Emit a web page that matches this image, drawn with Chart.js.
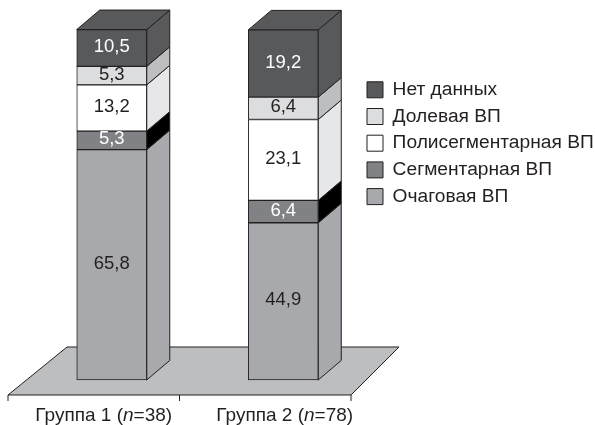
<!DOCTYPE html>
<html lang="ru">
<head>
    <meta charset="UTF-8">
    <title>Группы ВП</title>
    <script src="https://cdn.jsdelivr.net/npm/chart.js"></script>
    <style>
        body { margin: 0; background: #fff; }
        canvas { display: block; }
    </style>
</head>
<body>
    <canvas id="chart" width="595" height="425"></canvas>

    <script>
        const categories = ['Группа 1', 'Группа 2'];
        const groupSizes = [38, 78];

        const focal = [65.8, 44.9];
        const segmental = [5.3, 6.4];
        const polysegmental = [13.2, 23.1];
        const lobar = [5.3, 6.4];
        const noData = [10.5, 19.2];

        const FONT = '"Liberation Sans", Arial, sans-serif';
        const INK = '#231f20';
        const DEPTH_X = 23;
        const DEPTH_Y = 19.5;

        function polygon(ctx, points, fill) {
            ctx.beginPath();
            points.forEach(([x, y], i) => i ? ctx.lineTo(x, y) : ctx.moveTo(x, y));
            ctx.closePath();
            ctx.fillStyle = fill;
            ctx.fill();
            ctx.strokeStyle = INK;
            ctx.lineWidth = 1;
            ctx.stroke();
        }

        const bars3d = {
            id: 'bars3d',
            afterLayout(chart) {
                // legend sits to the right of the bars, above the middle
                const legend = chart.legend;
                const h = legend.height;
                legend.left = 359.5;
                legend.right = legend.left + legend.width;
                legend.top = 72.7;
                legend.bottom = legend.top + h;
            },
            beforeDatasetsDraw(chart) {
                const { ctx, scales: { x, y } } = chart;
                const shift = 18;
                const left = x.left - shift;
                const right = x.right - shift;
                const front = y.bottom;
                ctx.save();
                // floor
                polygon(ctx, [[left, front], [left + 59, front - 48], [right + 48, front - 48], [right, front]], '#bcbec0');
                // ticks under the floor
                [left, (left + right) / 2, right].forEach(px => {
                    ctx.beginPath();
                    ctx.moveTo(px, front);
                    ctx.lineTo(px, front + 6);
                    ctx.strokeStyle = INK;
                    ctx.stroke();
                });
                // side faces and lid
                chart.data.datasets.forEach((ds, i) => {
                    chart.getDatasetMeta(i).data.forEach(bar => {
                        const r = bar.x + bar.width / 2;
                        const top = Math.min(bar.y, bar.base);
                        const bottom = Math.max(bar.y, bar.base);
                        polygon(ctx, [[r, top], [r + DEPTH_X, top - DEPTH_Y], [r + DEPTH_X, bottom - DEPTH_Y], [r, bottom]], ds.sideColor);
                        if (i === chart.data.datasets.length - 1) {
                            const l = bar.x - bar.width / 2;
                            polygon(ctx, [[l, top], [l + DEPTH_X, top - DEPTH_Y], [r + DEPTH_X, top - DEPTH_Y], [r, top]], ds.sideColor);
                        }
                    });
                });
                ctx.restore();
            },
            afterDatasetsDraw(chart) {
                const { ctx } = chart;
                ctx.save();
                ctx.textAlign = 'center';
                ctx.textBaseline = 'middle';
                ctx.font = '18.5px ' + FONT;
                // values on the bars, with a decimal comma
                chart.data.datasets.forEach((ds, i) => {
                    chart.getDatasetMeta(i).data.forEach((bar, j) => {
                        ctx.fillStyle = ds.labelColor;
                        ctx.fillText(String(ds.data[j]).replace('.', ','), bar.x, (bar.y + bar.base) / 2 - 1);
                    });
                });
                // group labels with an italic n
                const centers = [-8, 1.5];
                const first = chart.getDatasetMeta(0).data;
                ctx.textAlign = 'left';
                ctx.fillStyle = INK;
                categories.forEach((name, j) => {
                    const parts = [
                        [name + ' (', '19px ' + FONT],
                        ['n', 'italic 19px ' + FONT],
                        ['=' + groupSizes[j] + ')', '19px ' + FONT]
                    ];
                    let width = 0;
                    parts.forEach(([text, font]) => {
                        ctx.font = font;
                        width += ctx.measureText(text).width;
                    });
                    let px = first[j].x + centers[j] - width / 2;
                    parts.forEach(([text, font]) => {
                        ctx.font = font;
                        ctx.fillText(text, px, 415.5);
                        px += ctx.measureText(text).width;
                    });
                });
                ctx.restore();
            }
        };

        function series(label, data, color, sideColor, labelColor) {
            return {
                label, data, sideColor, labelColor,
                backgroundColor: color,
                borderColor: INK,
                borderWidth: 1,
                borderSkipped: false,
                barThickness: 70
            };
        }

        new Chart(document.getElementById('chart').getContext('2d'), {
            type: 'bar',
            data: {
                labels: categories,
                datasets: [
                    series('Очаговая ВП', focal, '#a7a9ac', '#a7a9ac', INK),
                    series('Сегментарная ВП', segmental, '#808285', '#000000', '#ffffff'),
                    series('Полисегментарная ВП', polysegmental, '#ffffff', '#e6e7e8', INK),
                    series('Долевая ВП', lobar, '#dcddde', '#bcbec0', INK),
                    series('Нет данных', noData, '#58595b', '#58595b', '#ffffff')
                ]
            },
            plugins: [bars3d],
            options: {
                responsive: false,
                animation: false,
                layout: { padding: { left: 26, right: 226, top: 11, bottom: 30 } },
                scales: {
                    x: { stacked: true, display: false },
                    y: { stacked: true, display: false, min: -4.3, max: 105.4 }
                },
                plugins: {
                    tooltip: { enabled: false },
                    legend: {
                        position: 'chartArea',
                        align: 'start',
                        reverse: true,
                        onClick: null,
                        labels: {
                            boxWidth: 16,
                            boxHeight: 16,
                            padding: 7.5,
                            color: INK,
                            font: { family: FONT, size: 19.2 }
                        }
                    }
                }
            }
        });
    </script>
</body>
</html>
